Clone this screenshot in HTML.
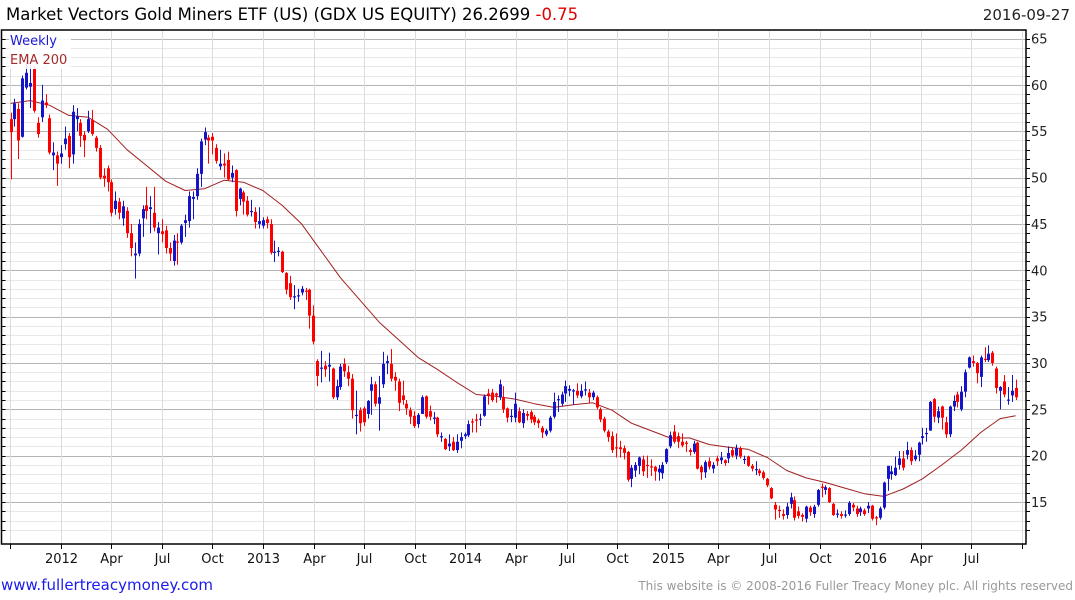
<!DOCTYPE html>
<html><head><meta charset="utf-8"><style>
html,body{margin:0;padding:0;background:#fff;width:1075px;height:600px;overflow:hidden}
svg text{font-family:"DejaVu Sans","Liberation Sans",sans-serif}
</style></head><body>
<svg id="chart" width="1075" height="600" xmlns="http://www.w3.org/2000/svg">
<text x="6" y="20" font-size="16.5" fill="#000">Market Vectors Gold Miners ETF (US)  (GDX US EQUITY) 26.2699 <tspan fill="#e00000">-0.75</tspan></text>
<text x="1070" y="20" font-size="15" text-anchor="end" fill="#222">2016-09-27</text>
<g id="grid"></g>
<g id="ema"></g>
<g id="candles"></g>
<g id="axes"></g>
<rect x="9" y="31" width="62" height="38" fill="#fff" opacity="0.85"/>
<text x="10" y="45" font-size="13" fill="#1a1ad0">Weekly</text>
<text x="10" y="64" font-size="13" fill="#a52a2a">EMA 200</text>
<text x="1" y="590" font-size="15" fill="#1a1aee">www.fullertreacymoney.com</text>
<text x="1073" y="590" font-size="12" text-anchor="end" fill="#999">This website is © 2008-2016 Fuller Treacy Money plc. All rights reserved</text>
</svg>
<script>
const opens=[56.3,56.3,57.4,54.4,59.7,59.8,61.7,55.9,56.5,58.1,56.4,52.4,52.4,52.2,53.6,54.5,52.5,56.3,55.9,54.6,55,56.2,54.3,53.2,50.2,51,49.5,46.6,47.4,45.6,46.4,44,41.6,41.8,45.6,47,46.6,46.2,44,44.2,44.3,42.4,41,43.1,43,45.1,45.3,47.7,48,50.4,54.1,54.3,54.4,53.2,51.2,51.5,51.9,50,50.8,47.7,48.4,47.5,46.3,46.3,45,44.8,45.5,45,41.9,42,42,39.7,38.6,37.1,37.2,37.6,37.8,37.9,35.1,30.2,29.4,29.7,29.6,29.4,26.3,27.4,29.9,29,28.3,24.3,24.9,25.1,24.5,27,27.7,25.6,27.7,30,29.9,28.5,28,26.5,25.6,24.9,24.3,23.4,24.5,26.4,24.8,24,24.1,22,21.8,21,21.5,20.6,21.6,22.1,22.2,23.7,23.9,23.9,24.3,26.7,26.8,26.7,26.3,26.3,25.1,24.2,24.1,24.8,23.5,24.5,24.7,24.2,23.8,23,22.3,22.7,24.2,26,25.6,26.7,27,27,27,26.4,27.05,26.8,26.3,26.3,25,24,22.6,22.1,20.9,20.9,20.8,20.4,17.5,18.4,18.9,19.6,19,18.85,18.8,18.2,18.1,19.3,21,22.6,22.1,21.5,21.4,20.6,20.4,21.4,18.8,18.2,19.4,18.6,19.7,19.5,19.5,19.7,20.6,20,20.8,19.55,19.9,18.9,18.45,18.4,18.2,17.5,16.5,14.7,14.15,13.7,13.6,14.8,15.2,14,13.6,13.2,14.4,13.7,14.7,16.65,16.3,16.5,14.8,13.65,13.7,13.55,13.7,14.7,14.3,13.9,14.1,14.3,14.6,13.35,13.3,14.4,17.5,18,17.9,19,19.7,20.1,20.6,19.6,20.1,21.9,22.35,22.7,26.1,24.1,25.3,23.6,22.3,25.3,26.6,25,26.9,29.5,30.2,30,28.5,30.45,30.3,31.1,29.4,27,28,25.95,26.5,27.3];
const highs=[57,58.5,58,61,62.5,62,62,56.5,60,59,56.8,53.8,52.8,53.5,55.5,54.8,57.8,57.5,56.3,55,57.2,57.3,54.5,53.5,51,51.3,49.8,48.5,47.8,47.5,46.8,45,43,45.5,47,49,48,49,45.2,45.5,44.8,43,43.8,44,45,46,48.5,48.5,51,54.2,55.4,54.6,54.8,53.6,53,52.6,52.8,51.3,50.9,48.9,48.6,48,47.6,46.8,46.8,45.7,45.8,45.5,43.2,42.5,42.1,39.8,39.4,38.4,38,38.3,38.1,38,36.2,30.4,31.3,30.2,31.1,29.5,28.2,29.9,30.5,29.7,28.8,27,25.2,25.3,26,28.5,28,28.6,31.2,30.8,31.5,29,28.3,28.1,26,25.2,24.8,24.6,26.5,26.5,25.4,24.7,24.2,22.5,21.9,22.3,22,22.3,22.5,22.5,23.8,24,24.5,24.5,26.6,27.2,27.2,26.8,28.2,27.5,25.2,25,26.8,25.2,25,24.8,24.9,24.4,24,23.2,22.9,24.3,26.8,26.5,26.9,28.1,27.6,27.2,27.8,27.7,28,27.2,27,26.5,25.2,24.2,22.8,22.6,22.4,21.6,21.1,20.5,19,19.3,19.9,20,20,19.6,18.9,19,19.3,20.8,22.6,23.3,22.5,22.4,21.6,20.8,21.6,21.5,19,19.5,19.8,19.3,20,20.4,19.6,21,20.9,21.2,21,20,20,19.1,19.4,18.6,18.4,17.6,16.6,15,14.6,14.2,14.9,16,15.6,14.5,13.8,14.6,14.6,14.7,16.4,17,16.8,16.6,14.9,14.2,14,14.1,15.1,14.9,14.6,14.5,14.3,15,14.7,13.5,14.5,17.2,18.9,18.9,19.9,20.5,20.5,21.5,20.9,20.6,21.5,23,23,25.9,26.2,25.3,25.4,24.2,25.4,26.5,26.9,27.5,29.3,30.7,30.8,30.1,30.8,31.7,31.9,31.3,29.6,27.5,28.7,27.4,28.7,28.2];
const lows=[49.8,55.5,52,54.3,59.5,57.5,57,54.3,56,57.5,52.5,50.8,49.1,51.5,53,51,51.5,55,53.3,52.2,54.8,54.5,52.8,49.8,49,48.5,45.8,46,45.5,44.8,43.5,41.5,39.1,41.5,43.6,45.5,44,44.2,41.7,43,41.8,41,40.5,40.6,42.8,43.6,44.6,45.5,47.6,49,53.5,51.5,52.5,51.5,50.8,50,49.7,49.5,45.8,47,46,45.8,45.8,44.5,44.5,44.5,44.5,41.7,40.9,41.5,39.7,37.4,36.8,35.8,36.6,37.3,36.8,33.7,32,27.5,27.9,28.5,28,26.1,26,27.1,28.5,27.5,24,22.3,22.6,23.2,24,24.4,25.3,22.7,27.3,28.8,28,27,24.8,25.5,24.4,23.4,23,23,24.5,24,23.8,23.4,22,21.5,20.6,20.5,20.5,20.3,20.8,21.8,22,22.5,22.5,23.2,24.2,25.5,25.8,25.7,26,24.6,23.6,23.6,23.6,23.5,23,23.8,23.5,23.3,23,21.9,22.1,22.5,24,24.7,25.3,25.8,26.4,25.5,26.2,26.2,26.5,25.7,26,25,23.6,22.5,21.5,20.3,19.8,19.8,19.6,17.2,16.6,17.7,18,17.8,17.6,17.8,17.3,17.3,17.5,19.1,20.8,21.3,20.8,20.9,20.4,20,20.2,18.5,17.4,17.6,18.5,18.1,18.9,19.1,18.9,19.2,19.8,19.6,19.7,19.1,18.8,18.3,17.9,17.8,17.4,16.6,15.3,13.1,13.3,13.1,13.2,14.3,13,13.2,12.9,12.8,13.5,13.3,14.5,15.5,15.8,14.9,13.5,13.3,13.2,13.3,13.5,14,13.4,13.5,13.5,13.8,13,12.5,13.1,14.2,16.2,17.4,17.8,18.5,18.4,19.6,19,19.4,19.4,21.2,21.5,22.7,23.6,23.5,22.8,21.9,22,24.8,25.2,24.8,26.3,29.4,29.6,27.8,27.4,30.1,30.1,29.7,26.7,25,26.3,25.5,25.8,26];
const closes=[54.9,58,54,60.7,61.3,60.2,57.2,54.7,58.3,57.8,52.7,52.7,51.5,52.6,54.2,52.2,57.1,56.6,54.5,54,56.3,54.7,53.2,50,49.9,49.5,46.2,47.5,46.2,46.9,44,42.4,41.8,45,46.6,46.4,46.8,44.6,44.6,43.9,42.4,41.8,43.2,43,44.8,45.4,48,47.9,50.4,53.9,54.9,54,54,51.8,51.5,51.3,49.8,50.5,46.4,48.8,47.4,46,46.4,45.2,45.3,45.4,45.1,41.9,42,42.1,39.8,37.9,37.1,37.2,37.3,38,37.7,35.1,32.3,28.6,29.5,29.3,29.8,26.3,27.5,29.6,29.1,28.3,24.9,24.4,23.5,23.6,25.9,27.7,25.6,26.3,29.9,30.2,28.3,28.1,25.7,26,25.1,24.2,23.2,24.4,26.3,24.2,24.2,24.1,22.3,22.1,20.7,21.3,20.6,21.5,22,22.3,23.4,23.6,23.8,24,26.4,26.5,26,26.5,27.7,25,24.1,24.3,25.6,23.6,24.6,24.3,23.9,23.6,23.5,22.5,22.7,24.1,25.8,26.1,26.6,27.5,27.2,27.05,26.5,27,27.15,26.3,26.8,25.2,23.9,22.7,22,20.6,20.8,20.7,20.3,17.4,18.7,19,19.8,18.3,18.9,18.75,18.3,18.6,19,20.7,22.2,21.5,21.5,21.1,21.3,20.4,21.3,18.6,18.2,19.3,18.8,19,19.4,19.8,19.2,20.3,20,20.8,19.9,19.65,18.9,18.6,18.55,18.1,17.6,16.8,15.4,14.2,14.05,13.5,14.5,15.5,13.3,13.5,13.4,14.5,13.9,14.5,16.3,16.55,16.6,15,13.6,13.75,13.5,13.65,14.9,14.4,13.7,14.3,13.7,14.6,13.2,13.25,14.3,17.1,18.9,18.3,18.7,19.7,18.7,20.6,19.4,20,21.4,22.1,22.45,25.8,24.2,24.8,24.1,22.3,25.3,25.9,25.8,26.9,29,30.6,30,28.9,30.6,30.35,31,30,27.3,27.4,26.6,26.05,27,26.3];
// EMA 200 (daily) sampled every 5 weeks, last at final week
const emaValues=[58.0,58.3,57.8,56.7,56.5,55.2,53.0,51.3,49.6,48.6,48.8,49.7,49.5,48.6,47.0,45.0,42.1,39.2,36.8,34.4,32.5,30.6,29.3,27.9,26.6,26.4,26.1,25.6,25.2,25.5,25.7,24.9,23.5,22.7,21.9,21.9,21.2,20.9,20.7,19.8,18.4,17.6,17.1,16.5,15.9,15.6,16.4,17.5,19.0,20.6,22.5,24.0,24.3];
const emaStep=5;
const yTicks=[15,20,25,30,35,40,45,50,55,60,65];
const xTickLabels=["","2012","Apr","Jul","Oct","2013","Apr","Jul","Oct","2014","Apr","Jul","Oct","2015","Apr","Jul","Oct","2016","Apr","Jul",""];

const NS="http://www.w3.org/2000/svg";
const L=1.5,R=1026,T=30,B=544;
const yScale=v=>38.5+(65-v)*9.27;
const N=closes.length;
const xScale=i=>10.6+i*(1005/(N-1));
const qx=k=>10+k*50.6;
function mk(tag,attrs,parent){const e=document.createElementNS(NS,tag);for(const k in attrs)e.setAttribute(k,attrs[k]);parent.appendChild(e);return e;}
const grid=document.getElementById('grid'),axes=document.getElementById('axes');
for(let v=12;v<=65;v++){
  const y=Math.round(yScale(v))+0.5;
  const major=v%5===0;
  const ln=mk('line',{x1:L,x2:R,y1:y,y2:y,stroke:major?'#b4b4b4':'#e8e8e8','stroke-width':1},grid);
  
  
  const tk=mk('line',{x1:R,x2:R+4,y1:y,y2:y,stroke:'#000'},axes);
  
  
  const tl=mk('line',{x1:L,x2:L+4,y1:y,y2:y,stroke:'#000'},axes);
  
  
}
yTicks.forEach(v=>{
  const t=mk('text',{x:1031,y:yScale(v)+5,'font-size':13,fill:'#222'},axes);
  t.textContent=v;
  
  
});
xTickLabels.forEach((lab,k)=>{
  const x=Math.round(qx(k))+0.5;
  if(x>R)return;
  const g=mk('line',{x1:x,x2:x,y1:T,y2:B,stroke:'#dcdcdc'},grid);
  
  
  const tk=mk('line',{x1:x,x2:x,y1:B,y2:B+5,stroke:'#000'},axes);
  
  
  if(lab){
    const t=mk('text',{x:x,y:563,'font-size':13,'text-anchor':'middle',fill:'#111'},axes);
    t.textContent=lab;
    
    
  }
});
const frame=mk('path',{d:`M${L} ${T}H${R}V${B}H${L}Z`,fill:'none',stroke:'#000','stroke-width':1.5},axes);


let pts=emaValues.map((v,j)=>{const i=Math.min(j*emaStep,N-1);return xScale(i).toFixed(1)+','+yScale(v).toFixed(1);}).join(' ');
const ema=mk('polyline',{points:pts,fill:'none',stroke:'#a02020','stroke-width':1,'stroke-linejoin':'round'},document.getElementById('ema'));


const cg=document.getElementById('candles');
for(let i=0;i<N;i++){
  const o=opens[i],c=closes[i],h=highs[i],l=lows[i];
  const up=c>=o, col=up?'#1414c8':'#ff0000';
  const x=Math.round(xScale(i));
  const g=mk('g',{},cg);
  
  
  mk('rect',{x:x,y:yScale(h),width:1,height:Math.max(1,yScale(l)-yScale(h)),fill:col},g);
  const top=yScale(Math.max(o,c)),bot=yScale(Math.min(o,c));
  mk('rect',{x:x-1,y:top,width:3,height:Math.max(1.2,bot-top),fill:col},g);
}
</script>
</body></html>
